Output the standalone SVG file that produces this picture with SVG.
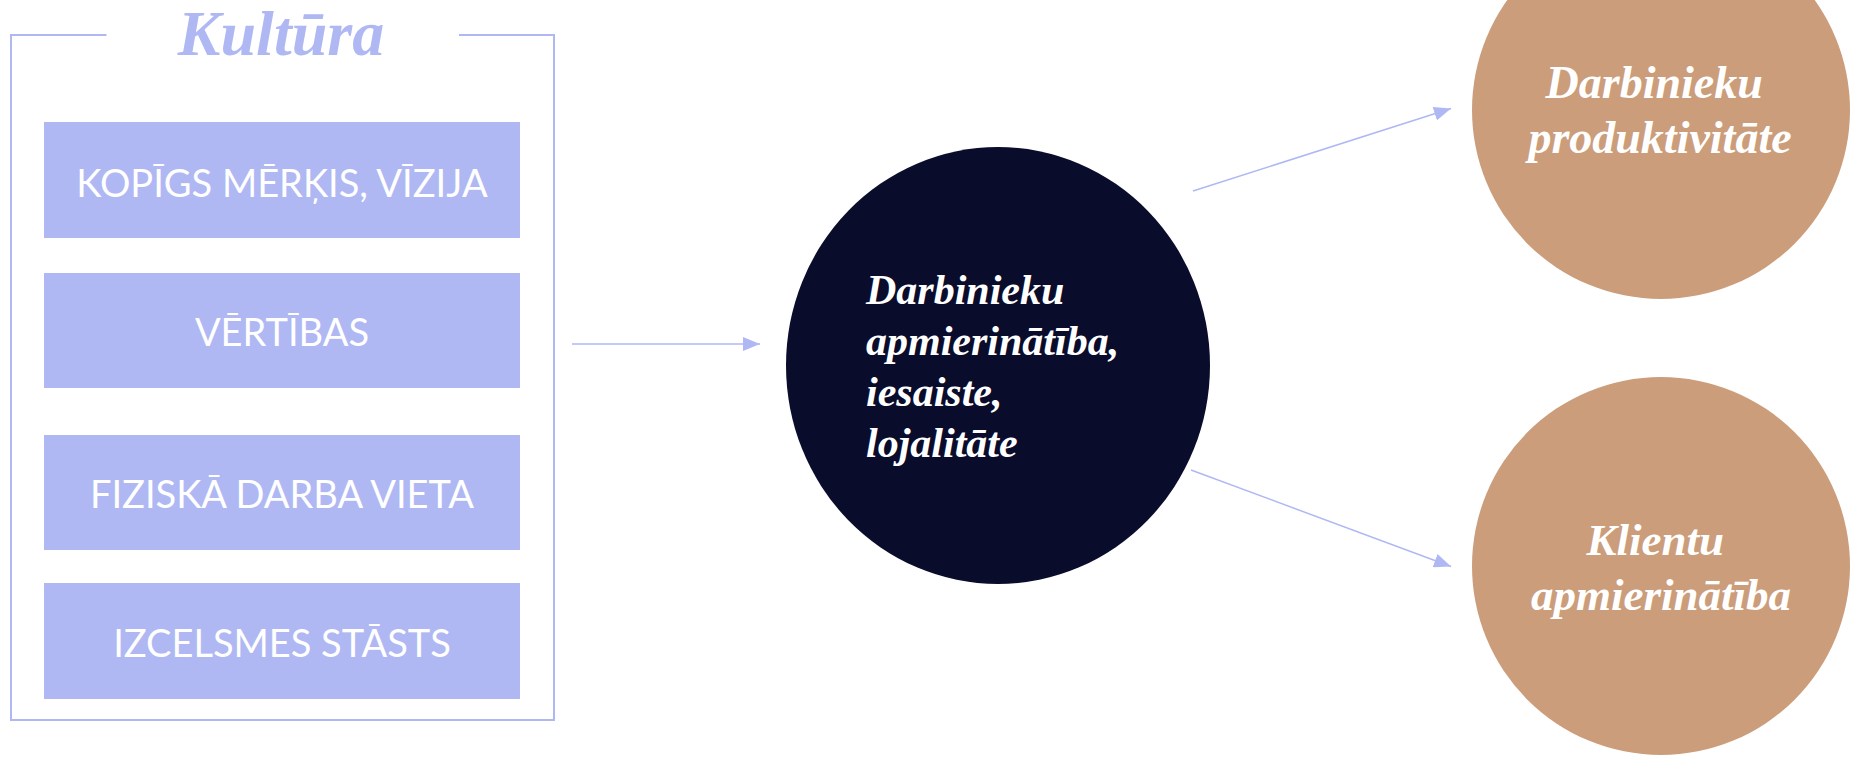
<svg xmlns="http://www.w3.org/2000/svg" width="1852" height="757" viewBox="0 0 1852 757">
  <style>
    .frame { fill: none; stroke: #AFB8F3; stroke-width: 2; }
    .box { fill: #AFB8F3; }
    .box-label { font-family: Lato, "Open Sans", sans-serif; font-size: 38px; fill: #FFFFFF; text-anchor: middle; }
    .title { font-family: "Liberation Serif", "Times New Roman", serif; font-style: italic; font-weight: bold; font-size: 64px; fill: #AFB8F3; text-anchor: middle; }
    .hub { fill: #0A0C2C; }
    .outcome { fill: #CB9D7B; }
    .serif-label { font-family: "Liberation Serif", "Times New Roman", serif; font-style: italic; font-weight: bold; fill: #FFFFFF; }
    .connector { stroke: #AFB8F3; stroke-width: 1.5; fill: none; marker-end: url(#arrow); }
  </style>
  <defs>
    <marker id="arrow" markerUnits="userSpaceOnUse" markerWidth="18" markerHeight="14" refX="17" refY="7" orient="auto">
      <path d="M0,0 L17,7 L0,14 Z" fill="#AFB8F3"/>
    </marker>
  </defs>

  <rect width="1852" height="757" fill="#FFFFFF"/>

  <!-- Culture frame with its title -->
  <g id="kultura">
    <path class="frame" d="M106.5,35 H11 V720 H554 V35 H459"/>
    <text class="title" x="281" y="55">Kultūra</text>
  </g>

  <g id="merkis">
    <rect class="box" x="44" y="122" width="476" height="116"/>
    <text class="box-label" x="282" y="197">KOPĪGS MĒRĶIS, VĪZIJA</text>
  </g>
  <g id="vertibas">
    <rect class="box" x="44" y="273" width="476" height="115"/>
    <text class="box-label" x="282" y="346">VĒRTĪBAS</text>
  </g>
  <g id="darba-vieta">
    <rect class="box" x="44" y="435" width="476" height="115"/>
    <text class="box-label" x="282" y="508">FIZISKĀ DARBA VIETA</text>
  </g>
  <g id="stasts">
    <rect class="box" x="44" y="583" width="476" height="116"/>
    <text class="box-label" x="282" y="657">IZCELSMES STĀSTS</text>
  </g>

  <!-- Central node -->
  <g id="apmierinatiba">
    <ellipse class="hub" cx="998" cy="365.5" rx="212" ry="218.5"/>
    <text class="serif-label" font-size="42" x="866">
      <tspan x="866" y="304">Darbinieku</tspan>
      <tspan x="866" y="355">apmierinātība,</tspan>
      <tspan x="866" y="406">iesaiste,</tspan>
      <tspan x="866" y="457">lojalitāte</tspan>
    </text>
  </g>

  <!-- Outcomes -->
  <g id="produktivitate">
    <circle class="outcome" cx="1661" cy="110" r="189"/>
    <text class="serif-label" font-size="46" text-anchor="middle">
      <tspan x="1660" y="98">Darbinieku</tspan>
      <tspan x="1660" y="153">produktivitāte</tspan>
    </text>
  </g>
  <g id="klienti">
    <circle class="outcome" cx="1661" cy="566" r="189"/>
    <text class="serif-label" font-size="45" text-anchor="middle">
      <tspan x="1661" y="555">Klientu</tspan>
      <tspan x="1661" y="610">apmierinātība</tspan>
    </text>
  </g>

  <!-- Connectors -->
  <g id="connectors">
    <line class="connector" x1="572" y1="344" x2="760" y2="344"/>
    <line class="connector" x1="1193" y1="191" x2="1451" y2="108.5"/>
    <line class="connector" x1="1191" y1="470" x2="1451" y2="566.5"/>
  </g>
</svg>
